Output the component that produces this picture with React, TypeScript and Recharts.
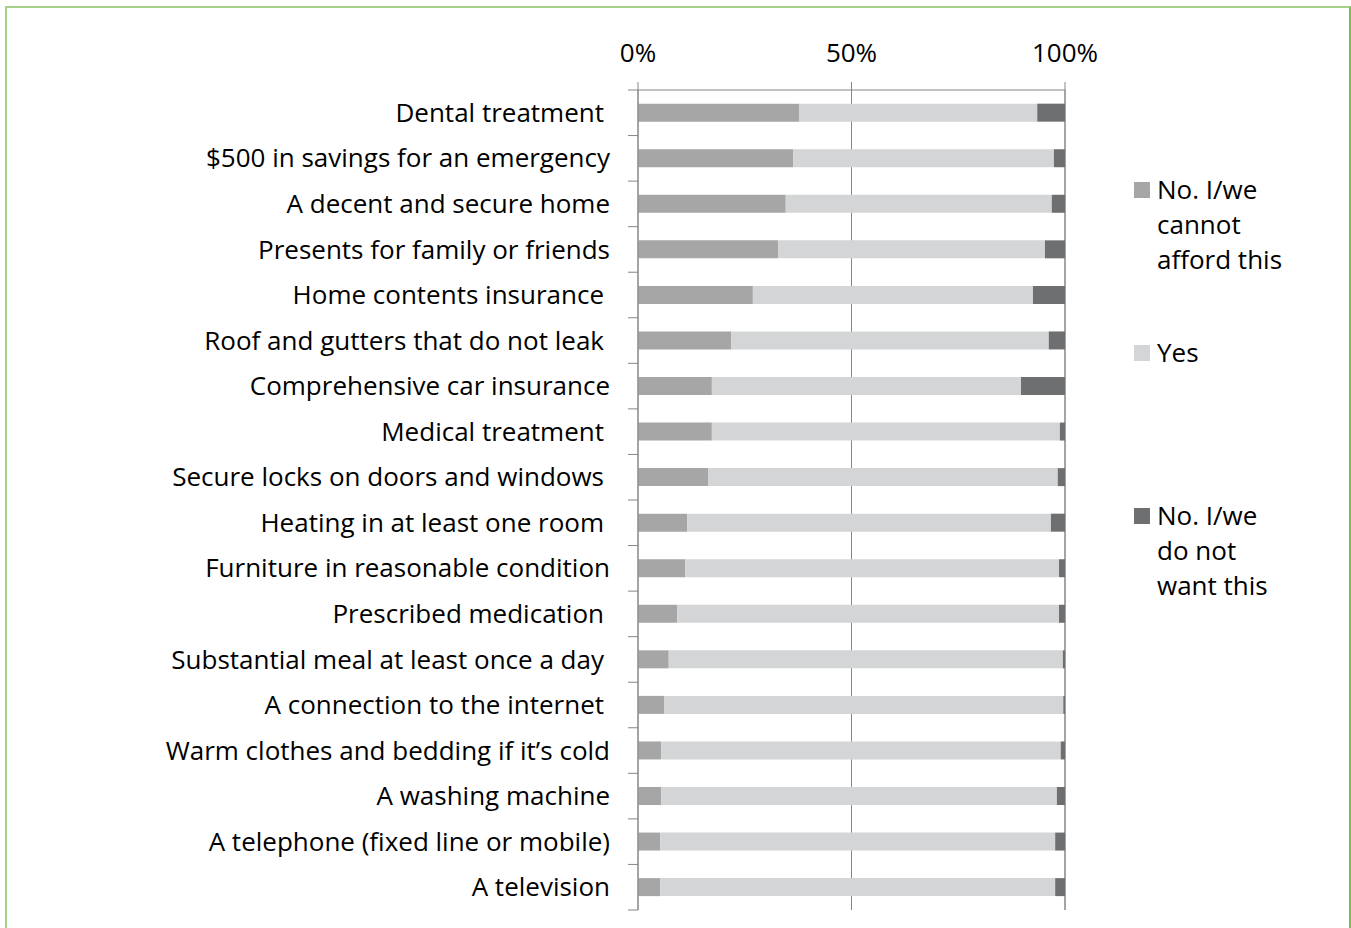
import { BarChart, Bar, XAxis, YAxis, CartesianGrid, Legend } from "recharts";

// Items, top to bottom. A trailing space marks labels that sit slightly further left in the source.
const categories = [
  "Dental treatment ",
  "$500 in savings for an emergency",
  "A decent and secure home",
  "Presents for family or friends",
  "Home contents insurance ",
  "Roof and gutters that do not leak ",
  "Comprehensive car insurance",
  "Medical treatment ",
  "Secure locks on doors and windows ",
  "Heating in at least one room ",
  "Furniture in reasonable condition",
  "Prescribed medication ",
  "Substantial meal at least once a day ",
  "A connection to the internet ",
  "Warm clothes and bedding if it\u2019s cold",
  "A washing machine",
  "A telephone (fixed line or mobile)",
  "A television",
];

const cannotAfford = [37.7, 36.4, 34.6, 32.8, 26.9, 21.8, 17.3, 17.3, 16.4, 11.5, 11.1, 9.2, 7.2, 6.1, 5.4, 5.4, 5.2, 5.2];
const yes = [55.8, 61.0, 62.3, 62.5, 65.6, 74.4, 72.4, 81.5, 81.9, 85.2, 87.5, 89.4, 92.3, 93.5, 93.6, 92.7, 92.5, 92.5];
const doNotWant = [6.5, 2.6, 3.1, 4.7, 7.5, 3.8, 10.3, 1.2, 1.7, 3.3, 1.4, 1.4, 0.5, 0.4, 1.0, 1.9, 2.3, 2.3];

const seriesNames = ["No. I/we cannot afford this", "Yes", "No. I/we do not want this"];
const xTicks = [0, 50, 100];

const data = categories.map((name, i) => ({
  name,
  cannot: cannotAfford[i],
  yes: yes[i],
  want: doNotWant[i],
}));

const W = 1351;
const H = 928;
const AXIS_X = 638;
const PLOT_TOP = 90;
const PLOT_BOTTOM = 910;
const BAND = (PLOT_BOTTOM - PLOT_TOP) / categories.length;
const LINE = "#868686";
const FONT = "'Open Sans', sans-serif";
const FS = 26;

function CategoryTick(props: any) {
  const { y, payload, index } = props;
  const label: string = payload.value;
  const shift = label.endsWith(" ") ? 6 : 0;
  return (
    <g>
      <line x1={AXIS_X - 10} x2={AXIS_X} y1={y - BAND / 2} y2={y - BAND / 2} stroke={LINE} />
      {index === categories.length - 1 && (
        <line x1={AXIS_X - 10} x2={AXIS_X} y1={y + BAND / 2} y2={y + BAND / 2} stroke={LINE} />
      )}
      <text x={AXIS_X - 28 - shift} y={y} dy="0.35em" textAnchor="end" fontSize={FS} fill="#000">
        {label.trim()}
      </text>
    </g>
  );
}

function LegendContent(props: any) {
  const payload = [...(props.payload || [])].sort(
    (a: any, b: any) => seriesNames.indexOf(a.value) - seriesNames.indexOf(b.value)
  );
  return (
    <div style={{ fontFamily: FONT }}>
      {payload.map((p: any, i: number) => (
        <div key={i} style={{ display: "flex", alignItems: "flex-start", height: 163 }}>
          <span
            style={{ width: 16, height: 16, background: p.color, marginTop: 10, marginRight: 7, flex: "none" }}
          />
          <span style={{ width: 130, fontSize: FS, lineHeight: "35px", color: "#000" }}>{p.value}</span>
        </div>
      ))}
    </div>
  );
}

export default function App() {
  return (
    <div style={{ position: "absolute", left: 0, top: 0, width: W, height: H, overflow: "hidden", background: "#fff" }}>
      <div
        style={{
          position: "absolute",
          left: 5,
          top: 6,
          width: 1346,
          height: 1000,
          boxSizing: "border-box",
          borderLeft: "2px solid #a5d18a",
          borderTop: "2px solid #a5d18a",
          borderRight: "2px solid #74c04a",
        }}
      />
      <BarChart
        width={W}
        height={H}
        data={data}
        layout="vertical"
        barCategoryGap="30%"
        margin={{ top: 0, right: 286, bottom: 18, left: 0 }}
        style={{ fontFamily: FONT }}
      >
        <CartesianGrid vertical horizontal={false} stroke={LINE} />
        <XAxis
          type="number"
          orientation="top"
          domain={[0, 100]}
          ticks={xTicks}
          tickFormatter={(v) => `${v}%`}
          height={90}
          tickSize={8}
          tickMargin={20}
          stroke={LINE}
          tick={{ fill: "#000", fontSize: FS }}
        />
        <YAxis
          type="category"
          dataKey="name"
          width={AXIS_X}
          stroke={LINE}
          tickLine={false}
          interval={0}
          tick={<CategoryTick />}
        />
        <Legend
          layout="vertical"
          align="center"
          verticalAlign="middle"
          wrapperStyle={{ left: 1134, top: 172, width: 200 }}
          content={<LegendContent />}
        />
        <Bar dataKey="cannot" name={seriesNames[0]} stackId="a" fill="#a6a6a6" isAnimationActive={false} />
        <Bar dataKey="yes" name={seriesNames[1]} stackId="a" fill="#d4d5d6" isAnimationActive={false} />
        <Bar dataKey="want" name={seriesNames[2]} stackId="a" fill="#6d6f71" isAnimationActive={false} />
      </BarChart>
    </div>
  );
}
